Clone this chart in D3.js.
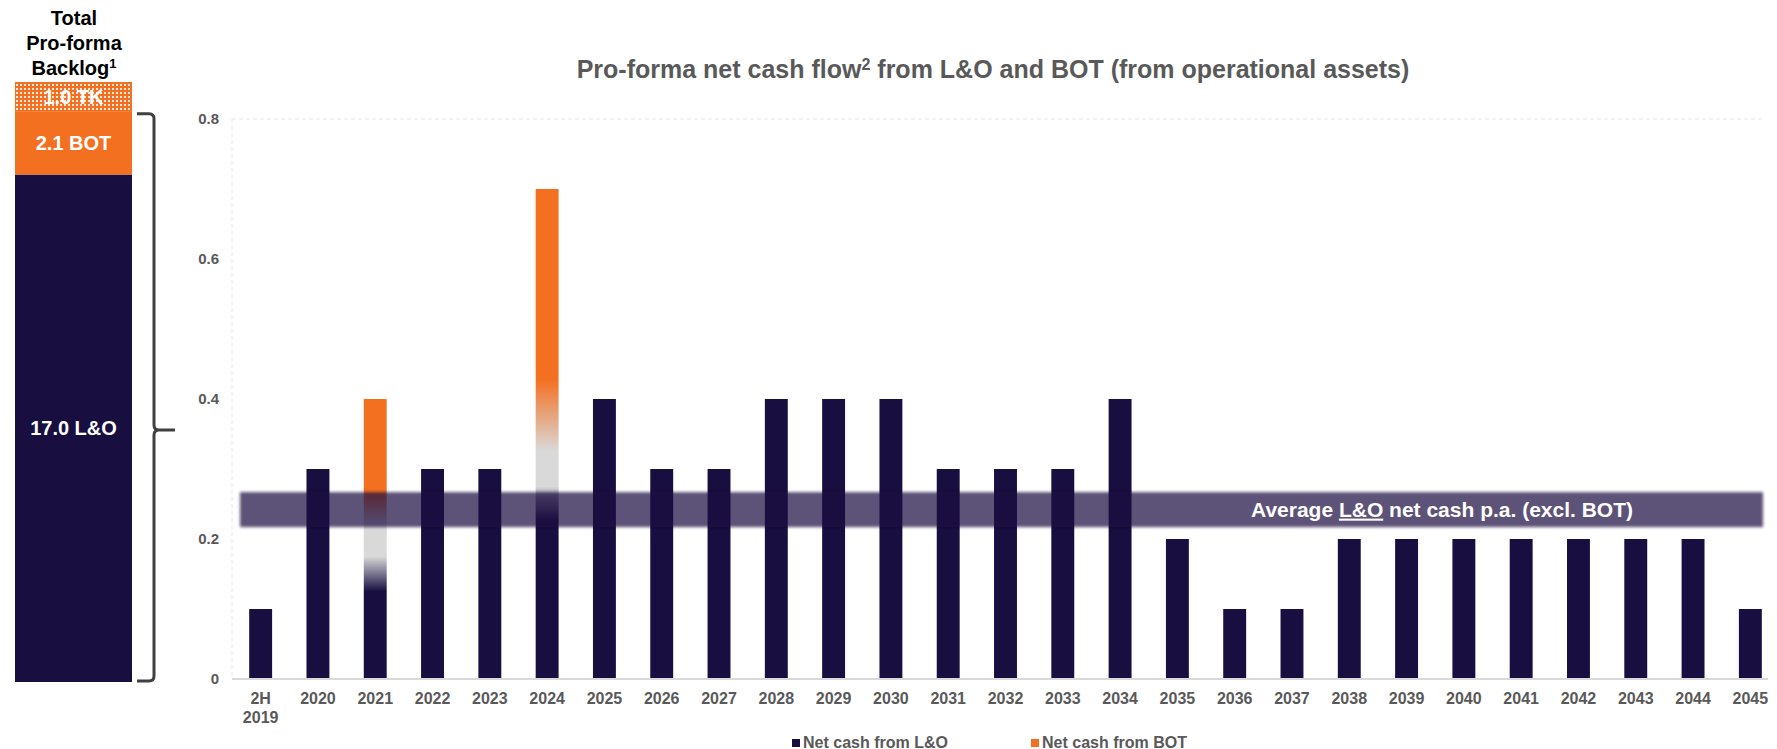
<!DOCTYPE html>
<html>
<head>
<meta charset="utf-8">
<script src="https://cdn.jsdelivr.net/npm/d3@7"></script>
<style>
  body { margin: 0; background: #fff; }
  text { font-family: "Liberation Sans", Arial, sans-serif; font-weight: bold; }
</style>
</head>
<body>
<div id="chart"></div>
<script>
var width = 1777,
    height = 749;

// data
var years = ["2H 2019", "2020", "2021", "2022", "2023", "2024", "2025", "2026", "2027",
    "2028", "2029", "2030", "2031", "2032", "2033", "2034", "2035", "2036", "2037",
    "2038", "2039", "2040", "2041", "2042", "2043", "2044", "2045"];
var netLO = [0.1, 0.3, 0.2, 0.3, 0.3, 0.3, 0.4, 0.3, 0.3, 0.4, 0.4, 0.4, 0.3, 0.3,
    0.3, 0.4, 0.2, 0.1, 0.1, 0.2, 0.2, 0.2, 0.2, 0.2, 0.2, 0.2, 0.1];
var netBOT = [0, 0, 0.2, 0, 0, 0.4, 0, 0, 0, 0, 0, 0, 0, 0, 0, 0, 0, 0, 0, 0, 0, 0,
    0, 0, 0, 0, 0];
var yTicks = [0, 0.2, 0.4, 0.6, 0.8];
var avgBand = [0.217, 0.267];

var backlogNames = ["L&O", "BOT", "TK"];
var backlogValues = [17.0, 2.1, 1.0];

var navy = "#180f40",
    orange = "#f37021",
    grey = "#595959";

var svg = d3.select("#chart")
    .append("svg")
    .attr("width", width)
    .attr("height", height);

var defs = svg.append("defs");

// dotted pattern for TK
var pat = defs.append("pattern")
    .attr("id", "dots")
    .attr("width", 4)
    .attr("height", 4)
    .attr("patternUnits", "userSpaceOnUse");
pat.append("rect").attr("width", 4).attr("height", 4).attr("fill", orange);
pat.append("rect").attr("width", 2).attr("height", 2).attr("fill", "#fff").attr("opacity", 0.85);

defs.append("filter")
    .attr("id", "soft")
    .attr("x", "-5%").attr("y", "-50%")
    .attr("width", "110%").attr("height", "200%")
    .append("feGaussianBlur")
    .attr("stdDeviation", 1.6);

// ---------- left backlog bar ----------
var yb = d3.scaleLinear()
    .domain([0, d3.sum(backlogValues)])
    .range([682, 82]);

var stack = [];
var acc = 0;
backlogValues.forEach(function (v, i) {
    stack.push({name: backlogNames[i], v: v, y0: acc, y1: acc + v});
    acc += v;
});

var left = svg.append("g");
left.selectAll("rect")
    .data(stack)
    .enter()
    .append("rect")
    .attr("x", 15)
    .attr("width", 117)
    .attr("y", function (d) { return yb(d.y1); })
    .attr("height", function (d) { return yb(d.y0) - yb(d.y1); })
    .attr("fill", function (d, i) { return i == 0 ? navy : i == 1 ? orange : "url(#dots)"; });

left.selectAll("text.seg")
    .data(stack)
    .enter()
    .append("text")
    .attr("class", "seg")
    .attr("x", 73.5)
    .attr("y", function (d) { return (yb(d.y0) + yb(d.y1)) / 2 + 7; })
    .attr("text-anchor", "middle")
    .attr("fill", "#fff")
    .style("font-size", "20px")
    .text(function (d) { return d.v.toFixed(1) + " " + d.name; });

var head = left.append("text")
    .attr("text-anchor", "middle")
    .attr("fill", "#000")
    .style("font-size", "20px");
head.append("tspan").attr("x", 74).attr("y", 25).text("Total");
head.append("tspan").attr("x", 74).attr("y", 50).text("Pro-forma");
head.append("tspan").attr("x", 74).attr("y", 75).text("Backlog");
head.append("tspan").attr("dy", -7).style("font-size", "13px").text("1");

// curly brace from top of BOT to the bottom
var bTop = yb(backlogValues[0] + backlogValues[1]) + 2,
    bBot = yb(0) - 1,
    bMid = 430;
left.append("path")
    .attr("d", "M137," + bTop + " H149 Q154," + bTop + " 154," + (bTop + 5) +
        " V" + (bMid - 5) + " Q154," + bMid + " 159," + bMid + " H175" +
        " M159," + bMid + " Q154," + bMid + " 154," + (bMid + 5) +
        " V" + (bBot - 5) + " Q154," + bBot + " 149," + bBot + " H137")
    .attr("fill", "none")
    .attr("stroke", "#404040")
    .attr("stroke-width", 3);

// ---------- main chart ----------
var x = d3.scaleBand()
    .domain(years)
    .range([232, 1779])
    .paddingInner(0.6)
    .paddingOuter(0.3);

var y = d3.scaleLinear()
    .domain([0, 0.8])
    .range([679, 119]);

var plotL = 232, plotR = 1765;

svg.append("text")
    .attr("x", 993)
    .attr("y", 78)
    .attr("text-anchor", "middle")
    .attr("fill", grey)
    .style("font-size", "25px")
    .call(function (t) {
        t.append("tspan").text("Pro-forma net cash flow");
        t.append("tspan").attr("dy", -8).style("font-size", "16px").text("2");
        t.append("tspan").attr("dy", 8).text(" from L&O and BOT (from operational assets)");
    });

// frame lines
svg.append("line")
    .attr("x1", plotL).attr("x2", plotR)
    .attr("y1", y(0.8)).attr("y2", y(0.8))
    .attr("stroke", "#e6e6e6")
    .attr("stroke-dasharray", "4,3");
svg.append("line")
    .attr("x1", plotL).attr("x2", plotL)
    .attr("y1", y(0.8)).attr("y2", y(0))
    .attr("stroke", "#e6e6e6")
    .attr("stroke-dasharray", "4,3");

// y labels
svg.append("g")
    .selectAll("text")
    .data(yTicks)
    .enter()
    .append("text")
    .attr("x", 219)
    .attr("y", function (d) { return y(d) + 5; })
    .attr("text-anchor", "end")
    .attr("fill", grey)
    .style("font-size", "15px")
    .text(function (d) { return d === 0 ? "0" : d3.format(".1f")(d); });

var rows = years.map(function (yr, i) {
    return {year: yr, lo: netLO[i], bot: netBOT[i]};
});

// gradient for stacked bars (faded transition)
rows.forEach(function (d, i) {
    if (d.bot <= 0) return;
    var y0 = y(0), y1 = y(d.lo + d.bot);
    var off = function (v) { return (y0 - y(v)) / (y0 - y1); };
    var g = defs.append("linearGradient")
        .attr("id", "fade" + i)
        .attr("x1", 0).attr("x2", 0)
        .attr("y1", 1).attr("y2", 0);
    var b = d.lo;
    var top = d.lo + d.bot;
    [[0, navy], [b - 0.075, navy], [b - 0.025, "#d9d9d9"], [b + 0.025, "#d9d9d9"],
        [Math.min(b + d.bot * 0.32, top), orange], [top, orange]].forEach(function (s) {
        g.append("stop").attr("offset", off(s[0])).attr("stop-color", s[1]);
    });
});

svg.append("g")
    .selectAll("rect")
    .data(rows)
    .enter()
    .append("rect")
    .attr("x", function (d) { return x(d.year); })
    .attr("width", x.bandwidth())
    .attr("y", function (d) { return y(d.lo + d.bot); })
    .attr("height", function (d) { return y(0) - y(d.lo + d.bot); })
    .attr("fill", function (d, i) { return d.bot > 0 ? "url(#fade" + i + ")" : navy; });

// baseline
svg.append("line")
    .attr("x1", plotL).attr("x2", 1768)
    .attr("y1", y(0)).attr("y2", y(0))
    .attr("stroke", "#d9d9d9")
    .attr("stroke-width", 2);

// x labels
var xl = svg.append("g")
    .selectAll("text")
    .data(years)
    .enter()
    .append("text")
    .attr("text-anchor", "middle")
    .attr("fill", grey)
    .style("font-size", "16px");
xl.each(function (d) {
    var parts = d.split(" ");
    var t = d3.select(this);
    parts.forEach(function (p, j) {
        t.append("tspan")
            .attr("x", x(d) + x.bandwidth() / 2)
            .attr("y", 704 + j * 19)
            .text(p);
    });
});

// average band
svg.append("rect")
    .attr("x", 240)
    .attr("width", 1763 - 240)
    .attr("y", y(avgBand[1]))
    .attr("height", y(avgBand[0]) - y(avgBand[1]))
    .attr("fill", "#1a1040")
    .attr("opacity", 0.71)
    .attr("filter", "url(#soft)");

svg.append("text")
    .attr("x", 1442)
    .attr("y", (y(avgBand[0]) + y(avgBand[1])) / 2 + 7)
    .attr("text-anchor", "middle")
    .attr("fill", "#fff")
    .style("font-size", "21px")
    .call(function (t) {
        t.append("tspan").text("Average ");
        t.append("tspan").style("text-decoration", "underline").text("L&O");
        t.append("tspan").text(" net cash p.a. (excl. BOT)");
    });

// legend
var legend = [
    {label: "Net cash from L&O", color: navy, x: 792},
    {label: "Net cash from BOT", color: orange, x: 1031}
];
var lg = svg.append("g")
    .selectAll("g")
    .data(legend)
    .enter()
    .append("g")
    .attr("transform", function (d) { return "translate(" + d.x + ",739)"; });
lg.append("rect")
    .attr("width", 8)
    .attr("height", 8)
    .attr("fill", function (d) { return d.color; });
lg.append("text")
    .attr("x", 11)
    .attr("y", 8.5)
    .attr("fill", grey)
    .style("font-size", "16px")
    .text(function (d) { return d.label; });
</script>
</body>
</html>
